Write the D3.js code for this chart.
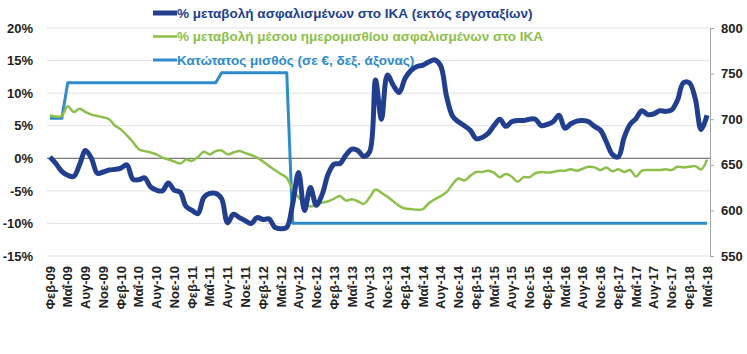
<!DOCTYPE html>
<html>
<head>
<meta charset="utf-8">
<script src="https://cdn.jsdelivr.net/npm/d3@7"></script>
<style>
  body { margin: 0; background: #fff; }
  svg { display: block; font-family: "Liberation Sans", Arial, sans-serif; }
</style>
</head>
<body>
<div id="chart"></div>
<script>
// month names (Greek), chart runs Feb-09 .. May-18
const monthNames = ["Ιαν", "Φεβ", "Μαρ", "Απρ", "Μαΐ", "Ιουν", "Ιουλ", "Αυγ", "Σεπ", "Οκτ", "Νοε", "Δεκ"];
const months = [];
for (let y = 2009, m = 1; y < 2018 || (y === 2018 && m <= 4); m++) {
  if (m > 11) { m = 0; y++; }
  months.push(monthNames[m] + "-" + String(y).slice(2));
}

// % change of insured in IKA (excl. construction) - left axis
const insured = [
  0.2, -0.8, -2.0, -2.6, -2.8, -1.0, 1.2, 0.0, -2.3, -2.1,
  -1.8, -1.7, -1.5, -1.0, -3.2, -3.3, -3.0, -4.4, -4.9, -5.0,
  -3.8, -4.9, -5.2, -7.4, -8.0, -8.5, -6.0, -5.4, -5.4, -6.2,
  -9.9, -8.6, -9.1, -9.6, -10.0, -9.1, -9.4, -9.3, -10.6, -10.8,
  -10.6, -7.0, -2.2, -8.0, -4.5, -7.2, -5.5, -2.4, -0.9, -0.8,
  0.5, 1.4, 1.2, 0.3, 1.0, 12.0, 6.0, 12.8, 11.2, 10.1,
  12.3, 13.5, 14.1, 14.3, 14.8, 15.1, 14.2, 9.5, 6.5, 5.6,
  5.0, 4.3, 3.0, 3.2, 3.8, 5.0, 6.0, 4.9, 5.6, 5.8,
  5.8, 6.0, 6.0, 5.0, 5.2, 5.6, 6.6, 4.6, 5.3, 5.7,
  5.8, 5.6, 4.9, 4.3, 2.5, 0.6, 0.2, 3.2, 5.2, 6.1,
  7.3, 6.7, 6.8, 7.3, 7.2, 7.4, 8.9, 11.6, 11.6, 9.2,
  4.4, 6.6
];

// % change of average daily wage - left axis
const dailyWage = [
  6.6, 6.4, 6.5, 8.0, 7.1, 7.6, 7.1, 6.7, 6.5, 6.3,
  6.0, 5.0, 4.4, 3.5, 2.5, 1.4, 1.1, 0.9, 0.6, 0.1,
  -0.2, -0.5, -0.8, -0.2, -0.4, 0.2, 1.0, 0.6, 1.1, 1.2,
  0.6, 0.9, 1.1, 0.8, 0.5, 0.1, -0.5, -1.2, -1.8, -2.4,
  -3.0, -4.8, -6.0, -6.8, -7.4, -7.0, -6.8, -6.6, -6.2, -5.8,
  -6.5, -6.3, -6.6, -7.0, -6.0, -4.8, -5.3, -5.9, -6.6, -7.3,
  -7.7, -7.8, -7.9, -7.8, -6.9, -6.3, -5.8, -5.2, -4.0, -3.1,
  -3.4, -2.7, -2.1, -2.1, -1.9, -2.2, -2.9, -2.4, -2.8, -3.6,
  -2.9, -2.9, -2.3, -2.1, -2.2, -2.1, -1.9, -1.9, -1.7, -1.9,
  -1.6, -1.3, -1.4, -1.8, -1.4, -2.0, -1.7, -2.1, -1.8, -2.8,
  -1.9, -1.8, -1.8, -1.8, -1.7, -1.8, -1.3, -1.4, -1.3, -1.2,
  -1.7, -0.2
];

// minimum wage in euro - right axis
const minWage = [
  701, 701, 701,
  740, 740, 740, 740, 740, 740, 740, 740, 740, 740, 740, 740, 740,
  740, 740, 740, 740, 740, 740, 740, 740, 740, 740, 740, 740, 740,
  751, 751, 751, 751, 751, 751, 751, 751, 751, 751, 751, 751,
  586, 586, 586, 586, 586, 586, 586, 586, 586, 586, 586, 586, 586, 586,
  586, 586, 586, 586, 586, 586, 586, 586, 586, 586, 586, 586, 586, 586,
  586, 586, 586, 586, 586, 586, 586, 586, 586, 586, 586, 586, 586, 586,
  586, 586, 586, 586, 586, 586, 586, 586, 586, 586, 586, 586, 586, 586,
  586, 586, 586, 586, 586, 586, 586, 586, 586, 586, 586, 586, 586, 586,
  586
];

const leftTicks = [-15, -10, -5, 0, 5, 10, 15, 20];
const rightTicks = [550, 600, 650, 700, 750, 800];

const legendItems = [
  { label: "% μεταβολή ασφαλισμένων στο ΙΚΑ (εκτός εργοταξίων)", color: "#213f8e", width: 5 },
  { label: "% μεταβολή μέσου ημερομισθίου ασφαλισμένων στο ΙΚΑ", color: "#8dbf4b", width: 2.5 },
  { label: "Κατώτατος μισθός (σε €, δεξ. άξονας)", color: "#2f8bc9", width: 3 }
];

const width = 747, height = 354;
const margin = { top: 28, right: 37, bottom: 98, left: 47 };
const plotW = width - margin.left - margin.right;
const plotH = height - margin.top - margin.bottom;

const svg = d3.select("#chart").append("svg")
  .attr("width", width)
  .attr("height", height)
  .style("background", "#fff");

const x = d3.scalePoint().domain(months).range([margin.left, margin.left + plotW]).padding(0.5);
const yL = d3.scaleLinear().domain([-15, 20]).range([margin.top + plotH, margin.top]);
const yR = d3.scaleLinear().domain([550, 800]).range([margin.top + plotH, margin.top]);

// gridlines
svg.append("g")
  .selectAll("line")
  .data(leftTicks.filter(d => d !== 0))
  .join("line")
  .attr("x1", margin.left).attr("x2", margin.left + plotW)
  .attr("y1", d => yL(d)).attr("y2", d => yL(d))
  .attr("stroke", "#e3e3e3").attr("stroke-width", 1);

// left axis labels
const leftAxis = svg.append("g")
  .attr("transform", `translate(${margin.left},0)`)
  .call(d3.axisLeft(yL).tickValues(leftTicks).tickFormat(d => d + "%").tickSize(0).tickPadding(14));
leftAxis.select(".domain").remove();
leftAxis.selectAll("text")
  .style("font-size", "13px").style("font-weight", "bold").attr("fill", "#222");

// right axis
const rightAxis = svg.append("g")
  .attr("transform", `translate(${margin.left + plotW},0)`)
  .call(d3.axisRight(yR).tickValues(rightTicks).tickSize(4).tickSizeOuter(0).tickPadding(7));
rightAxis.select(".domain").attr("stroke", "#a6a6a6");
rightAxis.selectAll(".tick line").attr("stroke", "#a6a6a6");
rightAxis.selectAll("text")
  .style("font-size", "13px").style("font-weight", "bold").attr("fill", "#222");

// category axis at 0%
svg.append("line")
  .attr("x1", margin.left).attr("x2", margin.left + plotW)
  .attr("y1", yL(0)).attr("y2", yL(0))
  .attr("stroke", "#5a5a5a").attr("stroke-width", 1);

// x labels every 3 months
svg.append("g")
  .selectAll("text")
  .data(months.filter((d, i) => i % 3 === 0))
  .join("text")
  .attr("transform", d => `translate(${x(d) + 4.7},${yL(-15) + 10}) rotate(-90)`)
  .attr("text-anchor", "end")
  .style("font-size", "13px").style("font-weight", "bold").attr("fill", "#222")
  .text(d => d);

// legend (sits under the lines)
const legend = svg.append("g");
legendItems.forEach((item, i) => {
  const ly = 13 + i * 23.5;
  legend.append("line")
    .attr("x1", 153).attr("x2", 177).attr("y1", ly).attr("y2", ly)
    .attr("stroke", item.color).attr("stroke-width", item.width);
  legend.append("text")
    .attr("x", 177).attr("y", ly).attr("dy", "0.35em")
    .style("font-size", "13.5px").style("font-weight", "bold")
    .attr("fill", item.color)
    .text(item.label);
});

// lines
const lineL = d3.line().x((d, i) => x(months[i])).y(d => yL(d)).curve(d3.curveCatmullRom.alpha(0.5));
const lineR = d3.line().x((d, i) => x(months[i])).y(d => yR(d));

svg.append("path").datum(minWage)
  .attr("d", lineR).attr("fill", "none")
  .attr("stroke", legendItems[2].color).attr("stroke-width", 3).attr("stroke-linejoin", "round");

svg.append("path").datum(dailyWage)
  .attr("d", lineL).attr("fill", "none")
  .attr("stroke", legendItems[1].color).attr("stroke-width", 2.5).attr("stroke-linejoin", "round");

svg.append("path").datum(insured)
  .attr("d", lineL).attr("fill", "none")
  .attr("stroke", legendItems[0].color).attr("stroke-width", 5).attr("stroke-linejoin", "round");
</script>
</body>
</html>
